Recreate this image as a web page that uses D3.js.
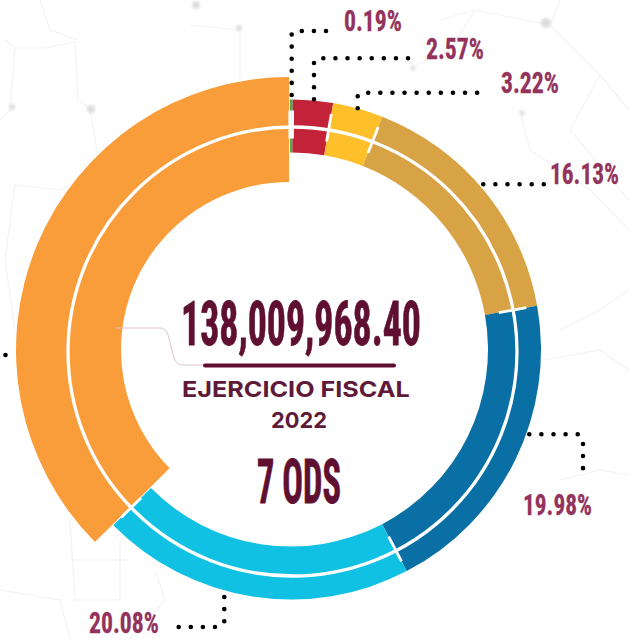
<!DOCTYPE html>
<html><head><meta charset="utf-8">
<script src="https://cdn.jsdelivr.net/npm/d3@7"></script>
<style>html,body{margin:0;background:#fff;overflow:hidden}svg{display:block}</style>
</head><body><svg id="c" width="629" height="639"></svg>
<script>
const categories = ["ODS A","ODS B","ODS C","ODS D","ODS E","ODS F","ODS G"];
const shares = [0.19,2.57,3.22,16.13,19.98,20.08,37.83];
const labels = ["0.19%","2.57%","3.22%","16.13%","19.98%","20.08%",""];
const colors = ["#4FA84B","#C32338","#FDC02A","#D8A345","#0A6FA4","#10C1E3","#F99D3A"];
const totalText = "138,009,968.40";
const fiscalLines = ["EJERCICIO FISCAL","2022"];
const odsText = "7 ODS";

const svg = d3.select("#c");
const defs=svg.append("defs");
defs.append("filter").attr("id","soft").append("feGaussianBlur").attr("stdDeviation",1.6);
// faint map background
const mapLines = [
 [[5,40],[15,48],[45,48],[75,42],[78,100],[90,108],[100,170],[60,190],[15,185],[5,260],[15,330]],
 [[190,25],[240,30],[240,80]],[[15,48],[10,110],[0,120]],[[78,40],[50,30],[40,0]],
 [[440,20],[475,10],[550,25],[600,75],[629,110]],[[550,25],[560,0]],[[600,75],[570,130],[629,200]],
 [[415,65],[450,50],[475,10]],[[520,110],[530,150],[590,190],[629,230]],[[560,330],[600,310],[629,290]],
 [[545,360],[600,350],[629,370]],[[560,480],[600,470],[629,475]],[[70,520],[75,600],[120,600],[120,540]],
 [[70,560],[130,560]],[[0,590],[60,600],[70,639]],[[155,570],[165,600],[130,639]]
];
svg.append("g").selectAll("path").data(mapLines).join("path")
  .attr("d",d3.line()).attr("fill","none")
  .attr("stroke","#f3f3f3").attr("stroke-width",1.2);
const mapBlobs=[[196,5,4],[239,28,3],[12,107,3],[91,109,4],[546,23,5],[413,68,2.5],[522,113,2.5]];
svg.append("g").attr("filter","url(#soft)").selectAll("circle").data(mapBlobs).join("circle")
  .attr("cx",d=>d[0]).attr("cy",d=>d[1]).attr("r",d=>d[2]).attr("fill","#dcdcdc");

// share -> angle (the reference runs slightly past a true 360 scale)
const deg=Math.PI/180;
const angle=d3.scaleLinear().domain([0,100]).range([-0.3*deg,(-0.3+360*1.008)*deg]);
const cum=[0,...d3.cumsum(shares)];
const arcsData=shares.map((v,i)=>({startAngle:angle(cum[i]),endAngle:angle(cum[i+1])}));
const cx=291,cy=349.5,R=250,r=197;
const oxc=289,oyc=350,OR=273,Or=168;
const big=shares.length-1;
const g=svg.append("g").attr("transform",`translate(${cx},${cy})`);
const arc=d3.arc().innerRadius(r).outerRadius(R);
g.selectAll("path").data(arcsData.slice(0,big)).join("path")
  .attr("d",arc).attr("fill",(d,i)=>colors[i]);
// large slice has its own radius and centre, ends at the top at x = oxc
svg.append("path").attr("transform",`translate(${oxc},${oyc})`)
  .attr("d",d3.arc().innerRadius(Or).outerRadius(OR)({startAngle:arcsData[big].startAngle,endAngle:2*Math.PI}))
  .attr("fill",colors[big]);
// white ring
svg.append("circle").attr("cx",292.5).attr("cy",351.5).attr("r",224.5)
  .attr("fill","none").attr("stroke","#fff").attr("stroke-width",3.3);
// white separators
const seps=arcsData.map(d=>d.startAngle);
svg.append("g").attr("transform",`translate(${cx},${cy})`).selectAll("line").data(seps).join("line")
  .attr("x1",a=>Math.sin(a)*211).attr("y1",a=>-Math.cos(a)*211)
  .attr("x2",a=>Math.sin(a)*239).attr("y2",a=>-Math.cos(a)*239)
  .attr("stroke","#fff").attr("stroke-width",2.8);
// leaders
const leaders=[
 [[291.7,95],[291.7,34],[294,31],[337,31]],
 [[314,99.3],[314,62],[317,58.3],[418.7,58.3]],
 [[357.7,108.3],[357.7,96],[361,92.7],[487.7,92.7]],
 [[483.3,184.3],[544.7,184.3]],
 [[529.3,434.3],[578,434.3],[583,439],[583,477.7]],
 [[224.3,597],[224.3,622],[219,627],[169.7,627]],
 [[5.5,355],[5.5,355.01]]
];
svg.append("g").selectAll("path").data(leaders).join("path")
  .attr("d",d3.line()).attr("fill","none").attr("stroke","#000")
  .attr("stroke-width",4.6).attr("stroke-linecap","round").attr("stroke-dasharray","0 12.1");
// condensed text: horizontal squeeze to a measured width
const cond="'Liberation Sans Narrow','Roboto Condensed','Liberation Sans',sans-serif";
function fit(parent,str,x,y,w,size,fill,family,extra){
  const t=parent.append("text").text(str).attr("font-family",family).attr("font-weight",700)
    .attr("font-size",size).attr("fill",fill);
  if(extra) t.attr("stroke",fill).attr("stroke-width",extra);
  const n=t.node().getComputedTextLength();
  t.attr("transform",`translate(${x},${y}) scale(${w/n},1)`);
}
const labelPos=[[344,31,58],[426,59,58],[501,92.7,58],[550,184,69],[523,515,69],[89,632.7,70]];
labels.slice(0,6).forEach((s,i)=>fit(svg,s,labelPos[i][0],labelPos[i][1],labelPos[i][2],29,"#93335C",cond,0.3));
// centre
const dark="#5F0F30";
svg.append("path").attr("d","M116,328H160Q166,328 168,335L174,358Q176,365 184,365H205")
  .attr("fill","none").attr("stroke","#dcc3cf").attr("stroke-width",1);
svg.append("line").attr("x1",205).attr("x2",394).attr("y1",365.5).attr("y2",365.5)
  .attr("stroke",dark).attr("stroke-width",4).attr("stroke-linecap","round");
fit(svg,totalText,181,345,240,61,dark,cond,0.8);
fit(svg,odsText,257,503,84,62,dark,cond,0.8);
const fiscalPos=[[182,397,228],[271,428,56]];
fiscalLines.forEach((s,i)=>fit(svg,s,fiscalPos[i][0],fiscalPos[i][1],fiscalPos[i][2],22,"#5F1A3A","Inter,'Open Sans',sans-serif",0));
</script></body></html>
